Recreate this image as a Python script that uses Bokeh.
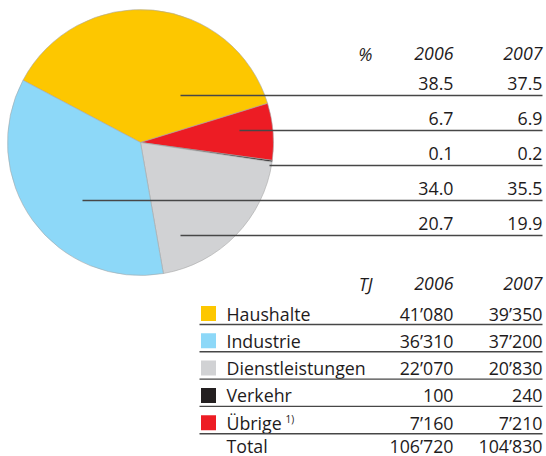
import math
from bokeh.plotting import figure
from bokeh.models import Range1d
from bokeh.core.properties import value
from bokeh.embed import file_html
from bokeh.resources import INLINE

# ---- data ----
categories = ["Haushalte", "Industrie", "Dienstleistungen", "Verkehr", "Übrige"]
colors = ["#fdc700", "#8dd8f8", "#d1d2d4", "#231f20", "#ed1c24"]
tj_2006 = [41080, 36310, 22070, 100, 7160]
tj_2007 = [39350, 37200, 20830, 240, 7210]
pct_2006 = [38.5, 34.0, 20.7, 0.1, 6.7]
pct_2007 = [37.5, 35.5, 19.9, 0.2, 6.9]
years = ["2006", "2007"]

# order of slices (clockwise) and of rows in the percentage table
pie_order = ["Haushalte", "Übrige", "Verkehr", "Dienstleistungen", "Industrie"]
pct_table_order = ["Haushalte", "Übrige", "Verkehr", "Industrie", "Dienstleistungen"]
leader_start_x = [180, 239, 269, 82, 180]

FONT = "Open Sans"
TXT = "#1e1b1c"
LINE = "#474747"
FS = "17.8px"

W, H = 546, 456
p = figure(width=W, height=H, x_range=Range1d(0, W), y_range=Range1d(-H, 0),
           output_backend="svg", toolbar_location=None, min_border=0)
p.axis.visible = False
p.grid.visible = False
p.outline_line_color = None
p.background_fill_color = "white"
p.border_fill_color = "white"


def Y(y):
    return -y


def fmt(n):
    return f"{n:,}".replace(",", "\u2019")


# ---- pie ----
cx, cy, r = 140, 142, 133
start_deg = 152.1
starts, ends, cols = [], [], []
a = start_deg
for name in pie_order:
    i = categories.index(name)
    span = pct_2007[i] / sum(pct_2007) * 360.0
    ends.append(math.radians(a))
    starts.append(math.radians(a - span))
    cols.append(colors[i])
    a -= span
p.wedge(x=[cx] * 5, y=[Y(cy)] * 5, radius=r, start_angle=starts, end_angle=ends,
        direction="anticlock", fill_color=cols, line_color="#a8a8a8", line_width=0.6)

# ---- percentage table ----
col_x = [453, 542]
row_top = 95
row_h = 35
p.text(x=[372], y=[Y(53)], text=["%"], text_align="right", text_baseline="middle",
       text_font=value(FONT), text_font_size=FS, text_font_style="italic", text_color=TXT)
p.text(x=col_x, y=[Y(53)] * 2, text=years, text_align="right", text_baseline="middle",
       text_font=value(FONT), text_font_size=FS, text_font_style="italic", text_color=TXT)
for k, name in enumerate(pct_table_order):
    i = categories.index(name)
    ly = row_top + row_h * k
    ty = ly - 12
    p.text(x=col_x, y=[Y(ty)] * 2, text=[f"{pct_2006[i]:.1f}", f"{pct_2007[i]:.1f}"],
           text_align="right", text_baseline="middle", text_font=value(FONT),
           text_font_size=FS, text_color=TXT)
    p.segment(x0=[leader_start_x[k]], y0=[Y(ly)], x1=[542], y1=[Y(ly)],
              line_color=LINE, line_width=1.4)

# ---- TJ table ----
lx0 = 199
p.text(x=[372], y=[Y(283)], text=["TJ"], text_align="right", text_baseline="middle",
       text_font=value(FONT), text_font_size=FS, text_font_style="italic", text_color=TXT)
p.text(x=col_x, y=[Y(283)] * 2, text=years, text_align="right", text_baseline="middle",
       text_font=value(FONT), text_font_size=FS, text_font_style="italic", text_color=TXT)
r0 = 313
rh = 27.3
for i, name in enumerate(categories):
    ty = r0 + rh * i
    p.rect(x=[208], y=[Y(ty)], width=15, height=15, fill_color=colors[i], line_color=None)
    p.text(x=[226], y=[Y(ty)], text=[name], text_align="left", text_baseline="middle",
           text_font=value(FONT), text_font_size=FS, text_color=TXT)
    p.text(x=col_x, y=[Y(ty)] * 2, text=[fmt(tj_2006[i]), fmt(tj_2007[i])],
           text_align="right", text_baseline="middle", text_font=value(FONT),
           text_font_size=FS, text_color=TXT)
    p.segment(x0=[lx0], y0=[Y(ty + 11)], x1=[542], y1=[Y(ty + 11)],
              line_color=LINE, line_width=1.4)
    if name == "Übrige":
        p.text(x=[285], y=[Y(ty - 4)], text=["1)"], text_align="left", text_baseline="middle",
               text_font=value(FONT), text_font_size="10px", text_color=TXT)

ty = r0 + rh * len(categories) - 4.5
p.text(x=[226], y=[Y(ty)], text=["Total"], text_align="left", text_baseline="middle",
       text_font=value(FONT), text_font_size=FS, text_color=TXT)
p.text(x=col_x, y=[Y(ty)] * 2, text=[fmt(sum(tj_2006)), fmt(sum(tj_2007))],
       text_align="right", text_baseline="middle", text_font=value(FONT),
       text_font_size=FS, text_color=TXT)

open("out.html", "w").write(file_html(p, INLINE))
